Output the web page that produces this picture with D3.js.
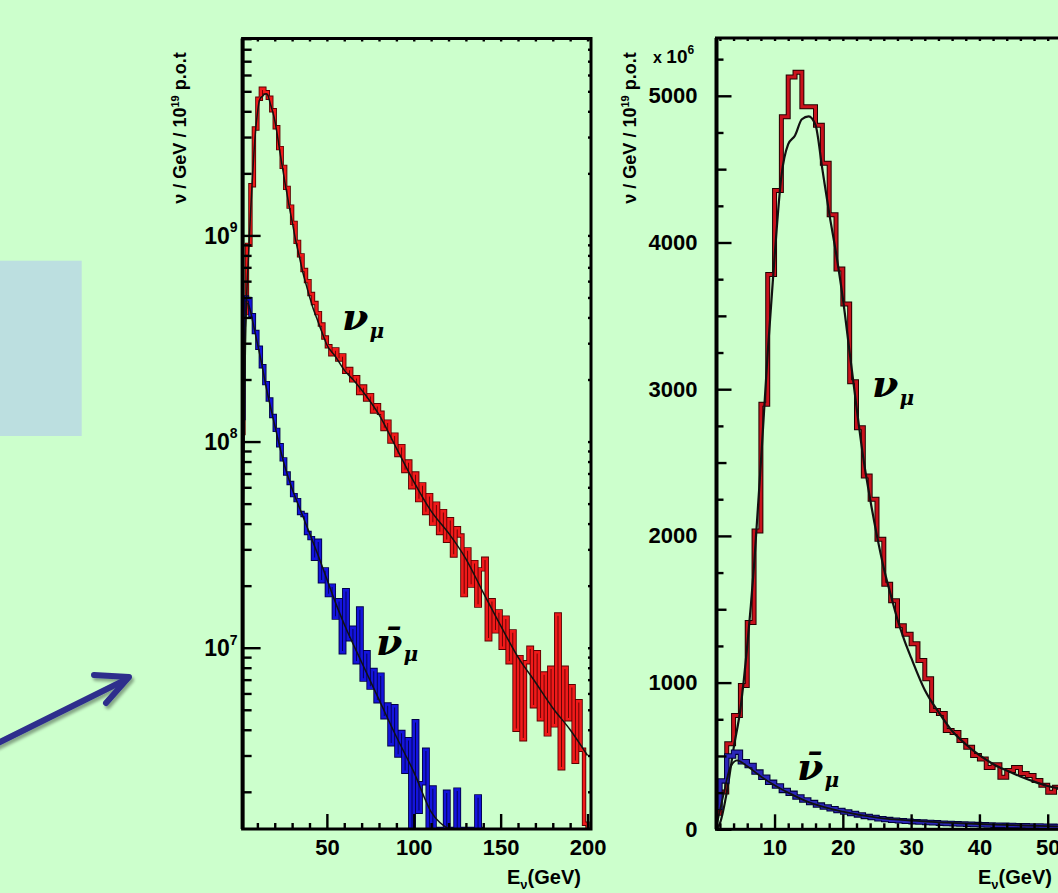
<!DOCTYPE html>
<html>
<head>
<meta charset="utf-8">
<script src="https://cdn.jsdelivr.net/npm/d3@7"></script>
<style>
  html, body { margin: 0; padding: 0; background: #ccffcc; }
  svg { display: block; }
</style>
</head>
<body>
<svg id="chart" width="1058" height="893"></svg>
<script>
// ---------------------------------------------------------------
// Neutrino flux (nu / GeV / 1e19 p.o.t), values in units of 1e6
// ---------------------------------------------------------------

// Log panel: 2 GeV bins starting at 0 GeV
const logBinStart = 0;
const logBinWidth = 2;
const numuLog = [
  110, 420, 900, 1750, 3300, 4600, 5150, 4950, 4650, 4050,
  3350, 2650, 2150, 1700, 1380, 1150, 930, 800, 680, 600,
  520, 470, 420, 370, 320, 290, 265, 280, 250, 262,
  218, 225, 198, 205, 172, 185, 160, 168, 140, 150,
  138, 115, 125, 100, 108, 86, 95, 72, 80, 60,
  70, 52, 62, 45, 55, 40, 50, 36, 46, 33,
  42, 28, 38, 35, 18, 30, 20, 26, 16, 24,
  27, 11, 17, 12, 15, 10, 14, 8.5, 12, 4.0,
  9.0, 3.6, 8.5, 10, 5.2, 9.5, 4.5, 7.5, 3.8, 8.0,
  4.2, 14.5, 2.6, 8.0, 4.5, 6.5, 2.8, 5.5, 3.2, 1.4
];
const numubarLog = [
  130, 500, 490, 410, 340, 285, 232, 192, 160, 133,
  114, 96, 82, 70, 63, 55, 52, 45, 44, 36,
  34, 27, 33, 21, 24, 18, 20, 14, 17, 9.5,
  19, 11, 12.5, 8.5, 15.5, 7.0, 9.5, 6.4, 7.8, 5.5,
  7.4, 4.6, 5.3, 3.4, 5.2, 3.0, 3.9, 2.5, 3.6, 1.2,
  4.4, 1.6, 2.2, 3.2, 1.1, 2.1, 0, 0, 0, 2.0,
  0, 0, 2.05, 0, 0, 0, 0, 0, 1.9, 0
];

// Linear panel: 1 GeV bins starting at 1 GeV
const linBinStart = 1;
const linBinWidth = 1;
const numuLin = [
  110, 254, 583, 776, 980, 1410, 2034, 2898, 3782, 4354,
  4857, 5129, 5160, 4925, 4925, 4800, 4540, 4190, 3820, 3580,
  3050, 2737, 2408, 2250, 1977, 1671, 1558, 1388, 1330, 1265,
  1150, 1027, 810, 789, 673, 660, 605, 560, 503, 480,
  422, 440, 354, 400, 422, 380, 367, 333, 300, 252,
  286, 270, 260, 240, 235, 220, 210, 200, 190
];
const numubarLin = [
  150, 330, 500, 526, 460, 435, 390, 355, 320, 295,
  265, 245, 220, 200, 182, 165, 152, 140, 128, 118,
  108, 98, 88, 80, 72, 66, 62, 58, 55, 52,
  49, 46, 44, 42, 40, 38, 36, 34, 32, 31,
  29, 28, 27, 26, 25, 24, 23, 22, 21, 20,
  19, 18, 18, 17, 16, 16, 15, 15, 14
];

// Predicted spectra (smooth curves), energy in GeV
const numuPredE = [1.5, 2, 3, 4, 5, 6, 7, 8, 9, 10, 11, 12, 13, 14, 15, 16, 17, 18, 19, 20,
  21, 22, 23, 24, 25, 26, 27, 28, 29, 30, 32, 34, 36, 38, 40, 42, 44, 46, 48, 50,
  55, 60, 65, 70, 80, 90, 100, 110, 120, 130, 140, 150, 160, 170, 180, 190, 200];
const numuPred = [0, 40, 250, 550, 820, 1250, 1800, 2500, 3250, 3900, 4450, 4670, 4730, 4840, 4860, 4800, 4500, 4200, 3930, 3620,
  3250, 2880, 2530, 2250, 2000, 1780, 1600, 1430, 1290, 1170, 950, 800, 670, 580, 505, 445, 400, 360, 325, 295,
  258, 222, 200, 178, 135, 93, 64, 46, 36, 27, 18.5, 12.8, 9.0, 6.8, 5.1, 4.0, 3.0];
const numubarPredE = [1.5, 2.5, 3.5, 4.5, 6, 8, 10, 12, 15, 20, 25, 30, 35, 40, 45, 50, 55, 60, 70, 80, 90, 100, 110, 120];
const numubarPred = [20, 230, 420, 470, 430, 360, 300, 250, 185, 120, 80, 59, 46, 36, 28, 21.5, 16.5, 13, 8.5, 5.6, 3.7, 2.5, 1.6, 1.05];

// Axis ticks and labels
const logXMajor = [50, 100, 150, 200];
const logXMinor = [10, 20, 30, 40, 60, 70, 80, 90, 110, 120, 130, 140, 160, 170, 180, 190];
const logYMajor = [10, 100, 1000];
const logYExponents = [7, 8, 9];
const linXMajor = [10, 20, 30, 40, 50, 60];
const linYMajor = [0, 1000, 2000, 3000, 4000, 5000];
const axisTitle = "E";
const axisTitleSub = "\u03bd";
const axisTitleUnit = "(GeV)";
const yTitleParts = ["\u03bd / GeV / 10", "19", " p.o.t"];
const linMultiplier = ["x ", "10", "6"];

// ---------------------------------------------------------------
const svg = d3.select("#chart");
const W = 1058, H = 893;

svg.append("rect").attr("width", W).attr("height", H).attr("fill", "#ccffcc");

const defs = svg.append("defs");
const sh = defs.append("filter").attr("id", "arrowShadow")
  .attr("x", "-20%").attr("y", "-20%").attr("width", "140%").attr("height", "160%");
sh.append("feDropShadow").attr("dx", 2).attr("dy", 3).attr("stdDeviation", 1.6)
  .attr("flood-color", "#000").attr("flood-opacity", 0.35);

// Side box and pointer arrow
svg.append("rect").attr("x", 0).attr("y", 260.7).attr("width", 81.7).attr("height", 175.3)
  .attr("fill", "#bcdfe0");
const arrow = svg.append("g").attr("filter", "url(#arrowShadow)")
  .attr("fill", "none").attr("stroke", "#2e2f8c").attr("stroke-width", 6)
  .attr("stroke-linecap", "round").attr("stroke-linejoin", "round");
arrow.append("path").attr("d", "M-4,744 L125,680");
arrow.append("path").attr("d", "M94,675 L129,677 L106,703");

// ---------------------------------------------------------------
// Scales
const L = { x0: 242.6, x1: 591, y0: 38.5, y1: 829 };
const R = { x0: 716.5, x1: 1116, y0: 38, y1: 829.3 };

const xLog = d3.scaleLinear().domain([1.5, 202]).range([L.x0, L.x1]);
const yLog = d3.scaleLog().domain([1.32, 9020]).range([L.y1, L.y0]).clamp(true);
const xLin = d3.scaleLinear().domain([1.5, 60]).range([R.x0, R.x1]);
const yLin = d3.scaleLinear().domain([0, 5394]).range([R.y1, R.y0]);

const FONT = "'Liberation Sans', Arial, Helvetica, sans-serif";

defs.append("clipPath").attr("id", "clipL").append("rect")
  .attr("x", L.x0).attr("y", L.y0).attr("width", L.x1 - L.x0).attr("height", L.y1 - L.y0);
defs.append("clipPath").attr("id", "clipR").append("rect")
  .attr("x", R.x0).attr("y", R.y0).attr("width", R.x1 - R.x0).attr("height", R.y1 - R.y0);

function histPoints(start, width, values, floor) {
  const pts = [[start, floor]];
  values.forEach((v, i) => pts.push([start + i * width, v]));
  pts.push([start + values.length * width, values[values.length - 1]]);
  pts.push([start + values.length * width, floor]);
  return pts;
}

function clean(g) {
  g.select(".domain").remove();
  g.selectAll(".tick line").attr("stroke", "#000").attr("stroke-width", 2.4);
  g.attr("font-family", FONT);
}

function drawHist(g, x, y, pts, outline, core, wOut, wCore) {
  const line = d3.line().x(d => x(d[0])).y(d => y(d[1])).curve(d3.curveStepAfter);
  g.append("path").attr("d", line(pts)).attr("fill", "none")
    .attr("stroke", outline).attr("stroke-width", wOut).attr("stroke-linejoin", "miter");
  g.append("path").attr("d", line(pts)).attr("fill", "none")
    .attr("stroke", core).attr("stroke-width", wCore).attr("stroke-linejoin", "miter");
}

function drawPred(g, x, y, xs, ys, width) {
  const line = d3.line().x((d, i) => x(xs[i])).y(d => y(d)).curve(d3.curveMonotoneX);
  g.append("path").attr("d", line(ys)).attr("fill", "none")
    .attr("stroke", "#111").attr("stroke-width", width);
}

// ---------------------------------------------------------------
// Left panel: logarithmic scale
const gL = svg.append("g");
const plotL = gL.append("g").attr("clip-path", "url(#clipL)");
const logFloor = 1.0;
const logY = v => yLog(Math.max(v, logFloor));

drawHist(plotL, xLog, logY, histPoints(logBinStart, logBinWidth, numuLog, 0), "#5a0000", "#f01a1a", 4.4, 2.6);
drawHist(plotL, xLog, logY, histPoints(logBinStart, logBinWidth, numubarLog, 0), "#00004a", "#1414dc", 4.4, 2.6);
drawPred(plotL, xLog, logY, numuPredE, numuPred, 1.5);
drawPred(plotL, xLog, logY, numubarPredE, numubarPred, 1.5);

// x ticks (inside, from the bottom)
gL.append("g").attr("transform", `translate(0,${L.y1})`)
  .call(d3.axisTop(xLog).tickValues(logXMinor).tickSize(6).tickFormat("")).call(clean);
gL.append("g").attr("transform", `translate(0,${L.y1})`)
  .call(d3.axisTop(xLog).tickValues(logXMajor).tickSize(15).tickFormat("")).call(clean);
gL.append("g").attr("transform", `translate(0,${L.y0})`)
  .call(d3.axisBottom(xLog).tickValues(logXMinor.concat(logXMajor)).tickSize(3).tickFormat("")).call(clean);
const lxLab = gL.append("g").attr("transform", `translate(0,${L.y1})`)
  .call(d3.axisBottom(xLog).tickValues(logXMajor).tickSize(0).tickPadding(10).tickFormat(d3.format("d")))
  .call(clean);
lxLab.selectAll("text").attr("font-size", 22).attr("font-weight", "bold").attr("fill", "#000");

// y ticks
const logMinor = [];
[1, 10, 100, 1000].forEach(dec => {
  for (let k = 2; k <= 9; k++) {
    const v = k * dec;
    if (v >= 1.32 && v <= 9020) logMinor.push(v);
  }
});
gL.append("g").attr("transform", `translate(${L.x0},0)`)
  .call(d3.axisRight(yLog).tickValues(logMinor).tickSize(9).tickFormat("")).call(clean);
gL.append("g").attr("transform", `translate(${L.x0},0)`)
  .call(d3.axisRight(yLog).tickValues(logYMajor).tickSize(18).tickFormat("")).call(clean);
gL.append("g").attr("transform", `translate(${L.x1},0)`)
  .call(d3.axisLeft(yLog).tickValues(logMinor.concat(logYMajor)).tickSize(3).tickFormat("")).call(clean);
const lyLab = gL.append("g").attr("transform", `translate(${L.x0},0)`)
  .call(d3.axisLeft(yLog).tickValues(logYMajor).tickSize(0).tickPadding(5).tickFormat(() => ""))
  .call(clean);
lyLab.selectAll(".tick text").each(function (d, i) {
  const t = d3.select(this).attr("font-size", 23).attr("font-weight", "bold").attr("fill", "#000")
    .attr("dy", "0.36em");
  t.append("tspan").text("10");
  t.append("tspan").attr("font-size", 14).attr("dy", "-0.85em").text(logYExponents[i]);
});

// frame
gL.append("rect").attr("x", L.x0).attr("y", L.y0).attr("width", L.x1 - L.x0).attr("height", L.y1 - L.y0)
  .attr("fill", "none").attr("stroke", "#000").attr("stroke-width", 3);
gL.append("line").attr("x1", L.x0).attr("x2", L.x0).attr("y1", L.y0).attr("y2", L.y1)
  .attr("stroke", "#000").attr("stroke-width", 4);

// ---------------------------------------------------------------
// Right panel: linear scale
const gR = svg.append("g");
const plotR = gR.append("g").attr("clip-path", "url(#clipR)");

drawHist(plotR, xLin, yLin, histPoints(linBinStart, linBinWidth, numuLin, 0), "#220000", "#c8121c", 5, 3);
drawPred(plotR, xLin, yLin, numuPredE, numuPred, 2.2);
drawHist(plotR, xLin, yLin, histPoints(linBinStart, linBinWidth, numubarLin, 0), "#000038", "#2a26b8", 5.5, 3.4);
drawPred(plotR, xLin, yLin, numubarPredE, numubarPred, 1.8);

const linXMinor = d3.range(2, 60, 2).filter(v => v % 10 !== 0);
const linYMinor = d3.range(250, 5394, 250).filter(v => v % 500 !== 0);
const linYHalf = d3.range(500, 5394, 1000);

gR.append("g").attr("transform", `translate(0,${R.y1})`)
  .call(d3.axisTop(xLin).tickValues(linXMinor).tickSize(6).tickFormat("")).call(clean);
gR.append("g").attr("transform", `translate(0,${R.y1})`)
  .call(d3.axisTop(xLin).tickValues(linXMajor).tickSize(15).tickFormat("")).call(clean);
gR.append("g").attr("transform", `translate(0,${R.y0})`)
  .call(d3.axisBottom(xLin).tickValues(linXMinor.concat(linXMajor)).tickSize(3).tickFormat("")).call(clean);
const rxLab = gR.append("g").attr("transform", `translate(0,${R.y1})`)
  .call(d3.axisBottom(xLin).tickValues(linXMajor).tickSize(0).tickPadding(10).tickFormat(d3.format("d")))
  .call(clean);
rxLab.selectAll("text").attr("font-size", 22).attr("font-weight", "bold").attr("fill", "#000");

gR.append("g").attr("transform", `translate(${R.x0},0)`)
  .call(d3.axisRight(yLin).tickValues(linYMinor).tickSize(7).tickFormat("")).call(clean);
gR.append("g").attr("transform", `translate(${R.x0},0)`)
  .call(d3.axisRight(yLin).tickValues(linYHalf).tickSize(10).tickFormat("")).call(clean);
gR.append("g").attr("transform", `translate(${R.x0},0)`)
  .call(d3.axisRight(yLin).tickValues(linYMajor).tickSize(15).tickFormat("")).call(clean);
const ryLab = gR.append("g").attr("transform", `translate(${R.x0},0)`)
  .call(d3.axisLeft(yLin).tickValues(linYMajor).tickSize(0).tickPadding(19).tickFormat(d3.format("d")))
  .call(clean);
ryLab.selectAll("text").attr("font-size", 22).attr("font-weight", "bold").attr("fill", "#000");

gR.append("rect").attr("x", R.x0).attr("y", R.y0).attr("width", R.x1 - R.x0).attr("height", R.y1 - R.y0)
  .attr("fill", "none").attr("stroke", "#000").attr("stroke-width", 3);
gR.append("line").attr("x1", R.x0).attr("x2", R.x0).attr("y1", R.y0).attr("y2", R.y1)
  .attr("stroke", "#000").attr("stroke-width", 4);

// multiplier above the linear axis
const mult = svg.append("text").attr("x", 653).attr("y", 63)
  .attr("font-family", FONT).attr("font-weight", "bold").attr("fill", "#000");
mult.append("tspan").attr("font-size", 16).text(linMultiplier[0]);
mult.append("tspan").attr("font-size", 19).text(linMultiplier[1]);
mult.append("tspan").attr("font-size", 12).attr("dy", -9).text(linMultiplier[2]);

// ---------------------------------------------------------------
// Axis titles
function xTitle(xStart, baseline) {
  const t = svg.append("text").attr("x", xStart).attr("y", baseline)
    .attr("font-family", FONT).attr("font-weight", "bold").attr("font-size", 20).attr("fill", "#000");
  t.append("tspan").text(axisTitle);
  t.append("tspan").attr("font-size", 13).attr("dy", 5).text(axisTitleSub);
  t.append("tspan").attr("dy", -5).text(axisTitleUnit);
}
xTitle(507, 884);
xTitle(978, 884);

function yTitle(xBase, yCenter) {
  const t = svg.append("text").attr("transform", `translate(${xBase},${yCenter}) rotate(-90)`)
    .attr("text-anchor", "middle").attr("font-family", FONT).attr("font-weight", "bold")
    .attr("font-size", 18).attr("fill", "#000");
  t.append("tspan").text(yTitleParts[0]);
  t.append("tspan").attr("font-size", 11).attr("dy", -7).text(yTitleParts[1]);
  t.append("tspan").attr("dy", 7).text(yTitleParts[2]);
}
yTitle(186, 128);
yTitle(636, 128);

// ---------------------------------------------------------------
// Curve labels
const SERIF = "'DejaVu Serif', 'Liberation Serif', serif";
function nuLabel(x, y, bar, subDy) {
  const t = svg.append("text").attr("x", x).attr("y", y)
    .attr("font-family", SERIF).attr("font-style", "italic").attr("font-weight", "bold")
    .attr("fill", "#000");
  t.append("tspan").attr("font-size", 38).text(bar ? "\u03bd\u0304" : "\u03bd");
  t.append("tspan").attr("font-size", 20).attr("dx", 1).attr("dy", subDy).text("\u03bc");
}
nuLabel(342, 330, false, 8);
nuLabel(376, 655, true, 6);
nuLabel(872, 397, false, 8);
nuLabel(797, 780, true, 7);
</script>
</body>
</html>
